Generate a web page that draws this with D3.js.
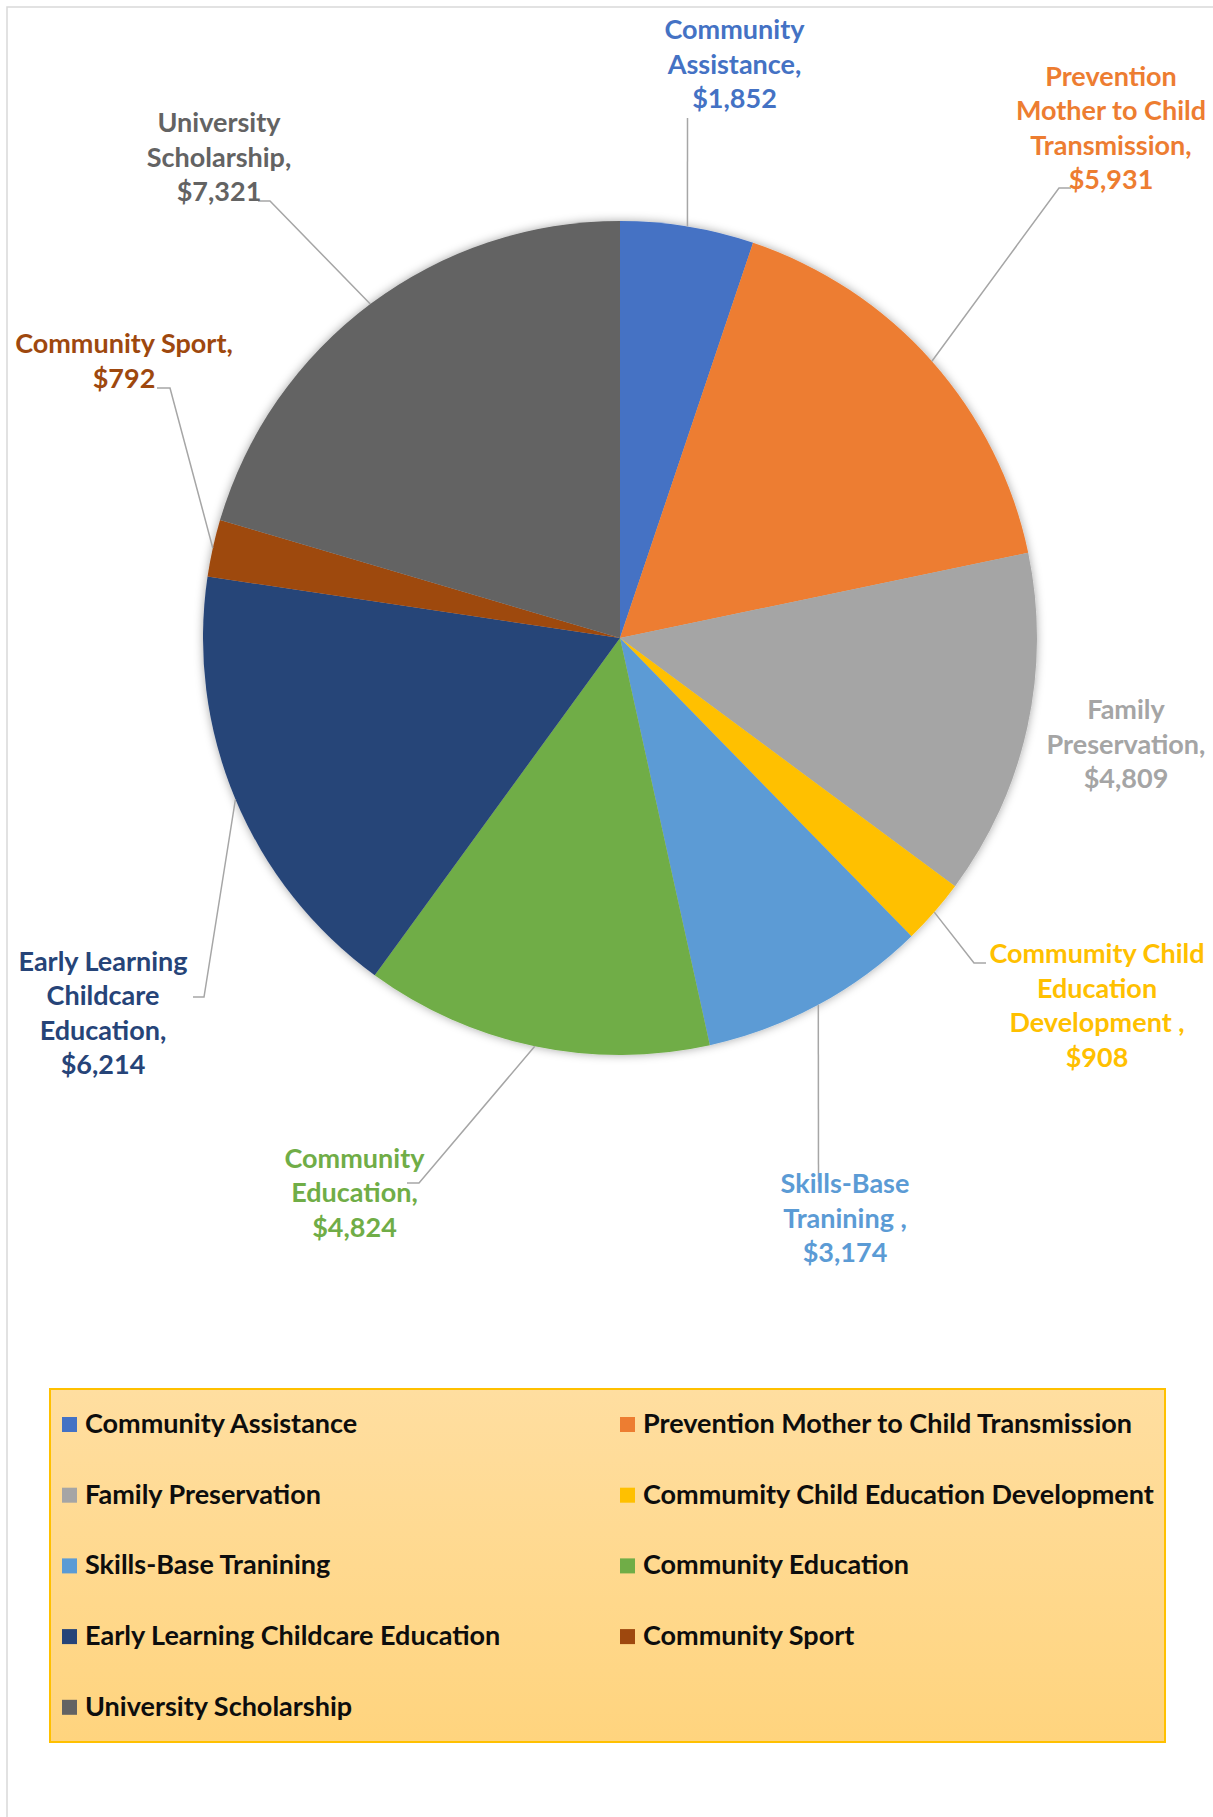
<!DOCTYPE html>
<html>
<head>
<meta charset="utf-8">
<script src="https://cdn.jsdelivr.net/npm/d3@7"></script>
<style>
html,body{margin:0;padding:0;background:#fff;}
svg{display:block;}
text{font-family:Lato,"Open Sans",sans-serif;font-weight:700;}
</style>
</head>
<body>
<svg id="chart" width="1213" height="1817"></svg>
<script>
// ---- data ----
const categories = [
  "Community Assistance",
  "Prevention Mother to Child Transmission",
  "Family Preservation",
  "Commumity Child Education Development",
  "Skills-Base Tranining",
  "Community Education",
  "Early Learning Childcare Education",
  "Community Sport",
  "University Scholarship"
];
const values = [1852, 5931, 4809, 908, 3174, 4824, 6214, 792, 7321];
const labelLines = [
  ["Community", "Assistance,"],
  ["Prevention", "Mother to Child", "Transmission,"],
  ["Family", "Preservation,"],
  ["Commumity Child", "Education", "Development ,"],
  ["Skills-Base", "Tranining ,"],
  ["Community", "Education,"],
  ["Early Learning", "Childcare", "Education,"],
  ["Community Sport,"],
  ["University", "Scholarship,"]
];
const colors = ["#4472C4","#ED7D31","#A5A5A5","#FFC000","#5B9BD5","#70AD47","#264478","#9E480E","#636363"];

// ---- layout (positions, not data) ----
const cx = 620, cy = 638, R = 417;
const labelPos = [ // text block center x, first baseline y
  [734.5, 39], [1111, 85.5], [1126, 719], [1097, 963], [845, 1193],
  [354.5, 1167.5], [103, 970.5], [124, 353], [219, 132]
];
const leaders = [ // elbow point, tick end (null = none)
  {e:[687.5,118], t:null},
  {e:[1059,188], t:[1071,188]},
  null,
  {e:[974,963], t:[986,963]},
  {e:[818.5,1182], t:null},
  {e:[419,1183], t:[407,1183]},
  {e:[204,997], t:[193,997]},
  {e:[170,388], t:[157,388]},
  {e:[270,201], t:[258,201]}
];
const fontSize = 27, lineH = 34.5;

const svg = d3.select("#chart");
const defs = svg.append("defs");
const f = defs.append("filter").attr("id","shadow").attr("x","-10%").attr("y","-10%").attr("width","120%").attr("height","120%");
f.append("feDropShadow").attr("dx",0).attr("dy",0).attr("stdDeviation",5).attr("flood-color","#000").attr("flood-opacity",0.35);
const g1 = defs.append("linearGradient").attr("id","legGrad").attr("x1",0).attr("y1",0).attr("x2",0).attr("y2",1);
g1.append("stop").attr("offset","0%").attr("stop-color","#FFDEA0");
g1.append("stop").attr("offset","100%").attr("stop-color","#FFD47E");

// chart area border (only top/left visible)
svg.append("rect").attr("x",7).attr("y",7).attr("width",1400).attr("height",2000)
  .attr("fill","#fff").attr("stroke","#D9D9D9").attr("stroke-width",1.5);

const data = categories.map((c,i)=>({name:c, value:values[i], i}));
const pie = d3.pie().value(d=>d.value).sort(null);
const arcs = pie(data);
const arc = d3.arc().innerRadius(0).outerRadius(R);

const pg = svg.append("g").attr("transform",`translate(${cx},${cy})`);
pg.append("g").attr("filter","url(#shadow)")
  .selectAll("path").data(arcs).join("path")
  .attr("d",arc).attr("fill",d=>colors[d.data.i]);

// leader lines
const lg = svg.append("g");
arcs.forEach((a,i)=>{
  const L = leaders[i];
  if(!L) return;
  const m = (a.startAngle+a.endAngle)/2;
  const sx = cx + R*Math.sin(m), sy = cy - R*Math.cos(m);
  const pts = [[sx,sy], L.e];
  if(L.t) pts.push(L.t);
  lg.append("path").attr("d", d3.line()(pts)).attr("fill","none")
    .attr("stroke","#A6A6A6").attr("stroke-width",1.5);
});

// data labels
const fmt = d3.format("$,");
arcs.forEach((a,i)=>{
  const lines = labelLines[i].concat([fmt(a.data.value)]);
  const t = svg.append("text").attr("text-anchor","middle")
    .attr("font-size",fontSize).attr("fill",colors[i]);
  lines.forEach((ln,k)=>{
    t.append("tspan").attr("x",labelPos[i][0]).attr("y",labelPos[i][1]+k*lineH).text(ln);
  });
});

// legend
const legX = 50, legY = 1389, legW = 1115, legH = 353;
svg.append("rect").attr("x",legX).attr("y",legY).attr("width",legW).attr("height",legH)
  .attr("fill","url(#legGrad)").attr("stroke","#FFC000").attr("stroke-width",2);
const colX = [62, 620], rowY0 = 1433, rowH = 70.7;
categories.forEach((c,i)=>{
  const col = i%2, row = Math.floor(i/2);
  const x = colX[col], y = rowY0 + row*rowH;
  svg.append("rect").attr("x",x).attr("y",y-16).attr("width",15).attr("height",15).attr("fill",colors[i]);
  svg.append("text").attr("x",x+23).attr("y",y).attr("font-size",fontSize).attr("fill","#0D0D0D").text(c);
});
</script>
</body>
</html>
